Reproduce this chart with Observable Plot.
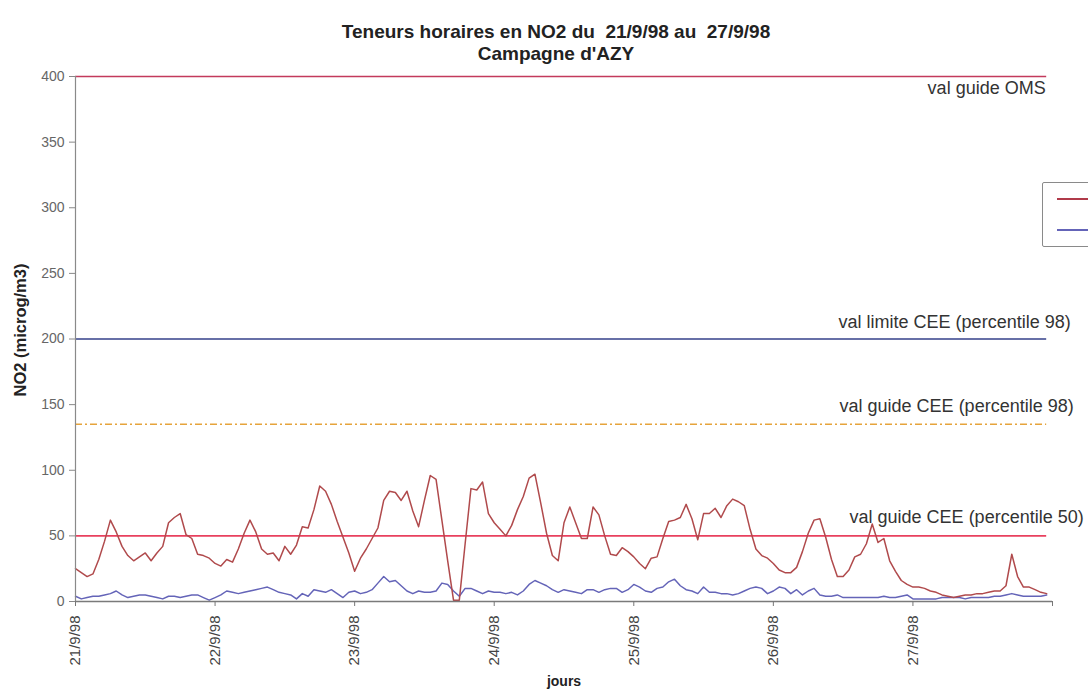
<!DOCTYPE html>
<html>
<head>
<meta charset="utf-8">
<script src="https://cdn.jsdelivr.net/npm/d3@7"></script>
<script src="https://cdn.jsdelivr.net/npm/@observablehq/plot@0.6"></script>
<style>
  html, body { margin: 0; padding: 0; background: #fff; overflow: hidden; }
  #wrap { position: relative; width: 1088px; height: 693px; overflow: hidden; font-family: 'Liberation Sans', Arial, sans-serif; }
  .title { position: absolute; left: 556px; transform: translateX(-50%); font-weight: bold; font-size: 19px; line-height: 22px; color: #222; white-space: nowrap; text-align: center; }
  #ylab { position: absolute; left: 20px; top: 330px; transform: translate(-50%, -50%) rotate(-90deg); font-weight: bold; font-size: 16.5px; color: #222; white-space: nowrap; }
  #xlab { position: absolute; left: 564px; top: 681px; transform: translate(-50%, -50%); font-weight: bold; font-size: 14px; line-height: 16px; color: #222; white-space: nowrap; }
  #legend { position: absolute; left: 1042px; top: 182px; width: 80px; height: 63px; border: 1.5px solid #8a8a8a; border-radius: 2px; background: #fff; }
  .lsw { position: absolute; left: 14px; width: 50px; height: 2px; }
  #chart { position: absolute; left: 0; top: 0; }
</style>
</head>
<body>
<div id="wrap">
  <div id="chart"></div>
  <div class="title" style="top:21px">Teneurs horaires en NO2 du&nbsp; 21/9/98 au&nbsp; 27/9/98<br>Campagne d'AZY</div>
  <div id="ylab">NO2 (microg/m3)</div>
  <div id="xlab">jours</div>
  <div id="legend">
    <div class="lsw" style="top:15px;background:#b03a4a"></div>
    <div class="lsw" style="top:46px;background:#6464b8"></div>
  </div>
</div>
<script>
// Hourly NO2 values (µg/m3), 21/9/98 00h to 27/9/98 23h
const redSeries = [
  25,22,19,21,32,46,62,53,42,35,31,34,37,31,37,42,60,64,67,51,48,36,35,33,
  29,27,32,30,40,52,62,53,40,36,37,31,42,36,43,57,56,70,88,84,74,61,49,37,
  23,33,40,48,56,77,84,83,77,84,69,57,77,96,93,62,31,1,1,44,86,85,91,67,
  60,55,50,58,70,80,94,97,75,52,35,31,60,72,60,48,48,72,66,50,36,35,41,38,
  34,29,25,33,34,48,61,62,64,74,63,47,67,67,71,64,73,78,76,73,55,40,35,33,
  29,24,22,22,26,38,52,62,63,49,32,19,19,24,34,36,44,59,45,48,31,23,16,13,
  11,11,10,8,7,5,4,3,4,5,5,6,6,7,8,8,12,36,19,11,11,9,7,6
];
const blueSeries = [
  4,2,3,4,4,5,6,8,5,3,4,5,5,4,3,2,4,4,3,4,5,5,3,1,
  3,5,8,7,6,7,8,9,10,11,9,7,6,5,2,6,4,9,8,7,9,6,3,7,
  8,6,7,9,14,19,15,16,12,8,6,8,7,7,8,14,13,8,4,10,10,8,6,8,
  7,7,6,7,5,8,13,16,14,12,9,7,9,8,7,6,9,9,7,9,10,10,7,9,
  13,11,8,7,10,11,15,17,12,9,8,6,11,7,7,6,6,5,6,8,10,11,10,6,
  8,11,10,6,9,5,8,10,5,4,4,5,3,3,3,3,3,3,3,4,3,3,4,5,
  2,2,2,2,2,3,3,3,3,2,3,3,3,3,4,4,5,6,5,4,4,4,4,5
];
const dayLabels = ["21/9/98","22/9/98","23/9/98","24/9/98","25/9/98","26/9/98","27/9/98"];
const yTicks = [0,50,100,150,200,250,300,350,400];
const guideValues = [400, 200, 135, 50];
const guideLabels = ["val guide OMS", "val limite CEE (percentile 98)", "val guide CEE (percentile 98)", "val guide CEE (percentile 50)"];
const guideColors = ["#c33a5c", "#34408a", "#e6a43c", "#e8405e"];

const startMs = Date.UTC(1998, 8, 21);
const HOUR = 3600e3, DAY = 86400e3;
const rows = redSeries.map((v, i) => ({t: new Date(startMs + i * HOUR), red: v, blue: blueSeries[i]}));
const tFirst = rows[0].t, tLast = rows[rows.length - 1].t;
const dayTicks = d3.range(8).map(i => new Date(startMs + i * DAY));
const labelOf = new Map(dayTicks.map((d, i) => [+d, dayLabels[i] ?? ""]));

const guideDx = [-1, 24, 27, 37];
const guideDy = [12, -17, -18, -19];

const guideMarks = guideValues.flatMap((v, i) => [
  Plot.ruleY([v], {x1: () => tFirst, x2: () => tLast, stroke: guideColors[i], strokeWidth: 1.6,
    strokeDasharray: v === 135 ? "7,3,2,3" : null}),
  Plot.text([guideLabels[i]], {x: () => tLast, y: () => v, text: d => d, textAnchor: "end",
    dx: guideDx[i], dy: guideDy[i], fontSize: 18, fill: "#333"})
]);

const chart = Plot.plot({
  width: 1088, height: 693,
  marginLeft: 75, marginRight: 36, marginTop: 76, marginBottom: 92,
  style: {fontFamily: "'Liberation Sans', Arial, sans-serif", background: "transparent", color: "#555"},
  x: {type: "utc", domain: [dayTicks[0], dayTicks[7]]},
  y: {domain: [0, 400]},
  marks: [
    ...guideMarks,
    Plot.line(rows, {x: "t", y: "blue", stroke: "#6464b8", strokeWidth: 1.5}),
    Plot.line(rows, {x: "t", y: "red", stroke: "#b04a4c", strokeWidth: 1.5}),
    Plot.ruleX([dayTicks[0]], {stroke: "#8a8a8a", strokeWidth: 1.2}),
    Plot.ruleY([0], {stroke: "#7a7a7a", strokeWidth: 1.5}),
    Plot.axisY({ticks: yTicks, tickSize: 6, tickPadding: 5, fontSize: 14, label: null, stroke: "#888", fill: "#666"}),
    Plot.axisX({ticks: dayTicks, tickFormat: d => labelOf.get(+d) ?? "", tickRotate: -90, tickSize: 5,
      tickPadding: 9, fontSize: 15, label: null, stroke: "#777", fill: "#444"})
  ]
});
document.getElementById("chart").appendChild(chart);
</script>
</body>
</html>
